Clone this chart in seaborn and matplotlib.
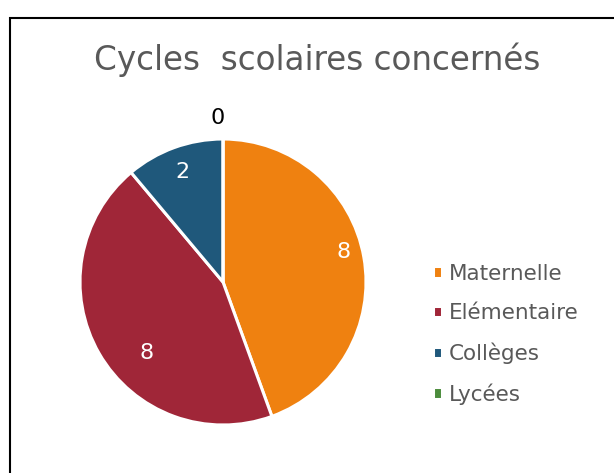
import matplotlib
matplotlib.use('Agg')
import matplotlib.pyplot as plt
from matplotlib.patches import Rectangle
import numpy as np
import seaborn as sns

# data
cycles = ['Maternelle', 'Elémentaire', 'Collèges', 'Lycées']
counts = [8, 8, 2, 0]
colors = ['#EF8110', '#A02638', '#1F587B', '#4C8C3C']

sns.set_theme(style='white')
plt.rcParams['font.family'] = ['DejaVu Sans']

W, H = 614, 473
fig = plt.figure(figsize=(W / 100, H / 100), dpi=100)

# chart frame (runs off the right and bottom edges)
fig.patches.append(Rectangle((10 / W, -0.1), 1.2, 1.1 - 18 / H, transform=fig.transFigure,
                             fill=False, edgecolor='black', linewidth=1.5))

# pie: centre (223, 282) px, radius ~143 px
r_px = 143
half = 1.1 * r_px
cx, cy = 223, H - 282
ax = fig.add_axes([(cx - half) / W, (cy - half) / H, 2 * half / W, 2 * half / H])
wedges, _ = ax.pie(counts, colors=colors, startangle=90, counterclock=False,
                   wedgeprops=dict(edgecolor='white', linewidth=2.2))
ax.set_xlim(-1.1, 1.1)
ax.set_ylim(-1.1, 1.1)
ax.set_aspect('equal')
ax.axis('off')

# data labels (excel "best fit" placement, roughly)
label_dist = [0.87, 0.73, 0.82, 1.15]
label_shift = [4, 13, 0, 2]
for w, v, d, s in zip(wedges, counts, label_dist, label_shift):
    ang = np.deg2rad((w.theta1 + w.theta2) / 2 + s)
    col = 'white' if v > 0 else 'black'
    ax.text(d * np.cos(ang), d * np.sin(ang), str(v), ha='center', va='center',
            fontsize=16, color=col, clip_on=False)

fig.text(317 / W, 1 - 60 / H, 'Cycles  scolaires concernés', ha='center', va='center',
         fontsize=23.5, color='#595959')

fig.legend(wedges, cycles, loc='upper left', bbox_to_anchor=(422 / W, 1 - 253 / H),
           frameon=False, fontsize=15.5, labelcolor='#595959', handlelength=0.45,
           handleheight=0.45, handletextpad=0.3, labelspacing=0.9, borderpad=0)

fig.savefig('out.png', dpi=100)
